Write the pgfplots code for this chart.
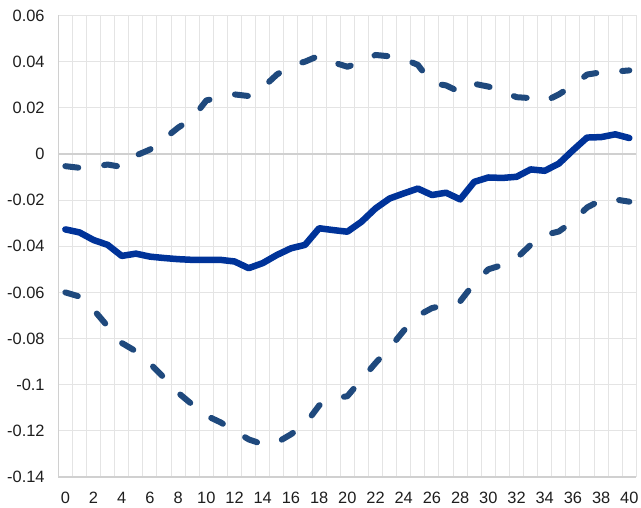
\documentclass[border=0pt]{standalone}
\usepackage{pgfplots}
\pgfplotsset{compat=1.18}
\usepackage{fontspec}
\setmainfont{Liberation Sans}
\definecolor{solidblue}{RGB}{0,51,153}
\definecolor{dashblue}{RGB}{31,73,125}
\definecolor{gridgray}{RGB}{228,228,228}
\definecolor{axisgray}{RGB}{208,208,208}
\definecolor{labelgray}{RGB}{30,30,30}
\begin{document}
\begin{tikzpicture}
\begin{axis}[
  name=ax, at={(0,0)}, anchor=south west,
  scale only axis, width=578.1pt, height=461.5pt,
  xmin=-0.5, xmax=40.5, ymin=-0.14, ymax=0.06,
  /pgf/number format/assume math mode=true,
  xtick={0,2,4,6,8,10,12,14,16,18,20,22,24,26,28,30,32,34,36,38,40},
  xticklabels={0,2,4,6,8,10,12,14,16,18,20,22,24,26,28,30,32,34,36,38,40},
  ytick={-0.14,-0.12,-0.1,-0.08,-0.06,-0.04,-0.02,0,0.02,0.04,0.06},
  yticklabels={{-0.14},{-0.12},{-0.1},{-0.08},{-0.06},{-0.04},{-0.02},{0},{0.02},{0.04},{0.06}},
  minor xtick={-0.5,0.5,...,40.5},
  xminorgrids, ymajorgrids,
  minor grid style={gridgray, line width=1pt},
  major grid style={gridgray, line width=1pt},
  major tick length=0pt, minor tick length=0pt,
  axis x line*=bottom, axis y line*=left,
  x axis line style={axisgray, line width=1.5pt},
  y axis line style={axisgray, line width=1.5pt},
  extra y ticks={0}, extra y tick labels={},
  extra y tick style={grid=major, major grid style={axisgray, line width=1.6pt}},
  xticklabel style={font=\fontsize{16.4}{19}\selectfont, text=labelgray, anchor=north, inner sep=0pt, yshift=-15pt},
  yticklabel style={font=\fontsize{16.4}{19}\selectfont, text=labelgray, anchor=east, inner sep=0pt, xshift=-13.5pt},
  clip=false,
]
\addplot[dashblue, line width=6pt, line cap=round, line join=round, dash pattern=on 13pt off 26pt] coordinates {
(0,-0.0053) (1,-0.0060) (2,-0.0055) (3,-0.0046) (4,-0.0056) (5,-0.0007) (6,0.0019) (7,0.0065) (8,0.0114) (9,0.0153)
(10,0.0232) (11,0.0246) (12,0.0258) (13,0.0251) (14,0.0287) (15,0.0344) (16,0.0383) (17,0.0400) (18,0.0426) (19,0.0397)
(20,0.0378) (21,0.0397) (22,0.0429) (23,0.0423) (24,0.0412) (25,0.0386) (26,0.0307) (27,0.0297) (28,0.0268) (29,0.0304)
(30,0.0292) (31,0.0272) (32,0.0246) (33,0.0242) (34,0.0228) (35,0.0258) (36,0.0297) (37,0.0344) (38,0.0354) (39,0.0357) (40,0.0362)
};
\addplot[dashblue, line width=6pt, line cap=round, line join=round, dash pattern=on 13pt off 26pt] coordinates {
(0,-0.0600) (1,-0.0618) (2,-0.0675) (3,-0.0747) (4,-0.0819) (5,-0.0855) (6,-0.0908) (7,-0.0970) (8,-0.1035) (9,-0.1086)
(10,-0.1134) (11,-0.1163) (12,-0.1200) (13,-0.1237) (14,-0.1258) (15,-0.1251) (16,-0.1215) (17,-0.1172) (18,-0.1090) (19,-0.1060)
(20,-0.1050) (21,-0.0978) (22,-0.0906) (23,-0.0841) (24,-0.0766) (25,-0.0701) (26,-0.0668) (27,-0.0654) (28,-0.0639) (29,-0.0560)
(30,-0.0500) (31,-0.0481) (32,-0.0452) (33,-0.0394) (34,-0.0351) (35,-0.0336) (36,-0.0292) (37,-0.0232) (38,-0.0200) (39,-0.0197) (40,-0.0207)
};
\addplot[solidblue, line width=6.5pt, line cap=round, line join=round] coordinates {
(0,-0.0327) (1,-0.0340) (2,-0.0373) (3,-0.0394) (4,-0.0442) (5,-0.0432) (6,-0.0445) (7,-0.0451) (8,-0.0456) (9,-0.0459)
(10,-0.0459) (11,-0.0459) (12,-0.0466) (13,-0.0495) (14,-0.0473) (15,-0.0438) (16,-0.0409) (17,-0.0394) (18,-0.0322) (19,-0.0330)
(20,-0.0337) (21,-0.0294) (22,-0.0236) (23,-0.0193) (24,-0.0171) (25,-0.0150) (26,-0.0178) (27,-0.0168) (28,-0.0197) (29,-0.0121)
(30,-0.0102) (31,-0.0104) (32,-0.0099) (33,-0.0067) (34,-0.0073) (35,-0.0042) (36,0.0016) (37,0.0071) (38,0.0073) (39,0.0085) (40,0.0069)
};
\end{axis}
\pgfresetboundingbox
\path[use as bounding box] (-58.3pt,-31pt) rectangle (582.7pt,477pt);
\end{tikzpicture}
\end{document}
